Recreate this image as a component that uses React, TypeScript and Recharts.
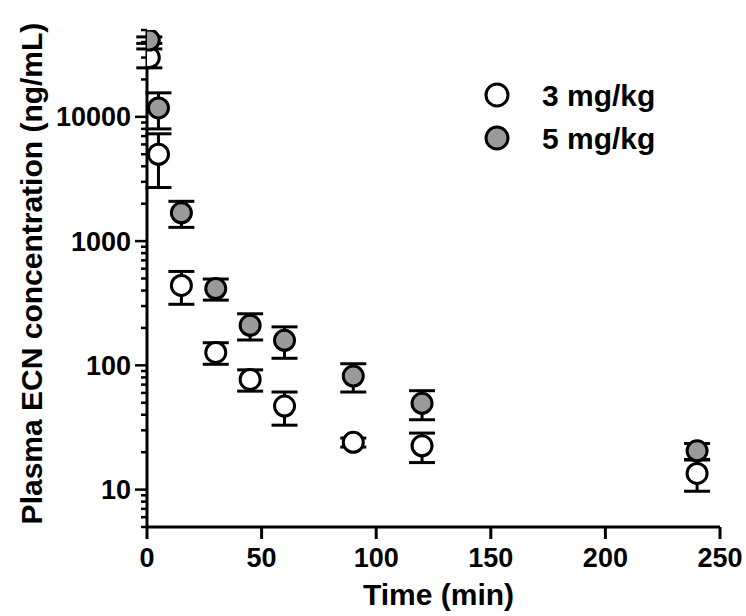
import {
  ScatterChart,
  Scatter,
  XAxis,
  YAxis,
  ErrorBar,
} from "recharts";

const times = [1, 5, 15, 30, 45, 60, 90, 120, 240];
const mean3 = [30000, 5000, 440, 127, 77, 47, 24, 22.5, 13.5];
const sd3 = [5200, 2300, 130, 25, 15, 14, 2, 6, 3.8];
const mean5 = [41500, 11800, 1690, 415, 210, 159, 82, 49.5, 20.5];
const sd5 = [2500, 3800, 400, 80, 50, 45, 21, 13, 3];

const xTicks = [0, 50, 100, 150, 200, 250];
const majorY = [10, 100, 1000, 10000];
const yTicks = [
  5, 6, 7, 8, 9,
  10, 20, 30, 40, 50, 60, 70, 80, 90,
  100, 200, 300, 400, 500, 600, 700, 800, 900,
  1000, 2000, 3000, 4000, 5000, 6000, 7000, 8000, 9000,
  10000, 20000, 30000, 40000, 50000,
];

const series = [
  { name: "3 mg/kg", mean: mean3, sd: sd3, fill: "#ffffff" },
  { name: "5 mg/kg", mean: mean5, sd: sd5, fill: "#9a9a9a" },
];

const FONT = '"Liberation Sans", Arial, sans-serif';

function toPoints(mean: number[], sd: number[]) {
  return times.map((t, i) => ({ t, v: mean[i], err: [sd[i], sd[i]] }));
}

function Dot(props: any) {
  const { cx, cy, fill } = props;
  if (cx == null || cy == null) return null;
  return <circle cx={cx} cy={cy} r={10} fill={fill} stroke="#000" strokeWidth={3} />;
}

function YTick(props: any) {
  const { x, y, payload } = props;
  const major = majorY.includes(payload.value);
  return (
    <g>
      <line x1={x - (major ? 12 : 6)} x2={x} y1={y} y2={y} stroke="#000" strokeWidth={2.5} />
      {major && (
        <text
          x={x - 16}
          y={y + 9.5}
          textAnchor="end"
          fontFamily={FONT}
          fontWeight="bold"
          fontSize={27}
          fill="#000"
        >
          {payload.value}
        </text>
      )}
    </g>
  );
}

function XTick(props: any) {
  const { x, y, payload } = props;
  return (
    <g>
      <line x1={x} x2={x} y1={y} y2={y + 12} stroke="#000" strokeWidth={3} />
      <text
        x={x}
        y={y + 40}
        textAnchor="middle"
        fontFamily={FONT}
        fontWeight="bold"
        fontSize={27}
        fill="#000"
      >
        {payload.value}
      </text>
    </g>
  );
}

export default function App() {
  return (
    <div style={{ position: "absolute", left: 0, top: 0, width: 746, height: 616, background: "#fff" }}>
      <ScatterChart width={746} height={616} margin={{ top: 30, right: 26, bottom: 29, left: 20 }}>
        <XAxis
          type="number"
          dataKey="t"
          domain={[0, 250]}
          ticks={xTicks}
          interval={0}
          allowDataOverflow
          height={60}
          tickSize={0}
          tickMargin={0}
          tickLine={false}
          tick={<XTick />}
          axisLine={{ stroke: "#000", strokeWidth: 3 }}
          label={{
            value: "Time (min)",
            content: (p: any) => (
              <text
                x={p.viewBox.x + p.viewBox.width / 2 + 5}
                y={p.viewBox.y + 78}
                textAnchor="middle"
                fontFamily={FONT}
                fontWeight="bold"
                fontSize={30}
                fill="#000"
              >
                Time (min)
              </text>
            ),
          }}
        />
        <YAxis
          type="number"
          dataKey="v"
          scale="log"
          domain={[5, 50000]}
          ticks={yTicks}
          interval={0}
          allowDataOverflow
          width={127}
          tickSize={0}
          tickMargin={0}
          tickLine={false}
          tick={<YTick />}
          axisLine={{ stroke: "#000", strokeWidth: 3 }}
          label={{
            value: "Plasma ECN concentration (ng/mL)",
            content: (p: any) => {
              const cx = p.viewBox.x + 22;
              const cy = p.viewBox.y + p.viewBox.height / 2 - 5;
              return (
                <text
                  x={cx}
                  y={cy}
                  transform={`rotate(-90 ${cx} ${cy})`}
                  textAnchor="middle"
                  fontFamily={FONT}
                  fontWeight="bold"
                  fontSize={30}
                  fill="#000"
                >
                  Plasma ECN concentration (ng/mL)
                </text>
              );
            },
          }}
        />
        {series.map((s) => (
          <Scatter
            key={s.name}
            name={s.name}
            data={toPoints(s.mean, s.sd)}
            fill={s.fill}
            shape={<Dot />}
            isAnimationActive={false}
          >
            <ErrorBar
              dataKey="err"
              direction="y"
              width={13}
              strokeWidth={3}
              stroke="#000"
              isAnimationActive={false}
            />
          </Scatter>
        ))}
      </ScatterChart>
      <svg
        width={220}
        height={90}
        style={{ position: "absolute", left: 470, top: 70 }}
      >
        {series.map((s, i) => (
          <g key={s.name}>
            <circle cx={27} cy={25 + i * 43} r={11} fill={s.fill} stroke="#000" strokeWidth={3} />
            <text
              x={72}
              y={25 + i * 43 + 11}
              fontFamily={FONT}
              fontWeight="bold"
              fontSize={30}
              fill="#000"
            >
              {s.name}
            </text>
          </g>
        ))}
      </svg>
    </div>
  );
}
